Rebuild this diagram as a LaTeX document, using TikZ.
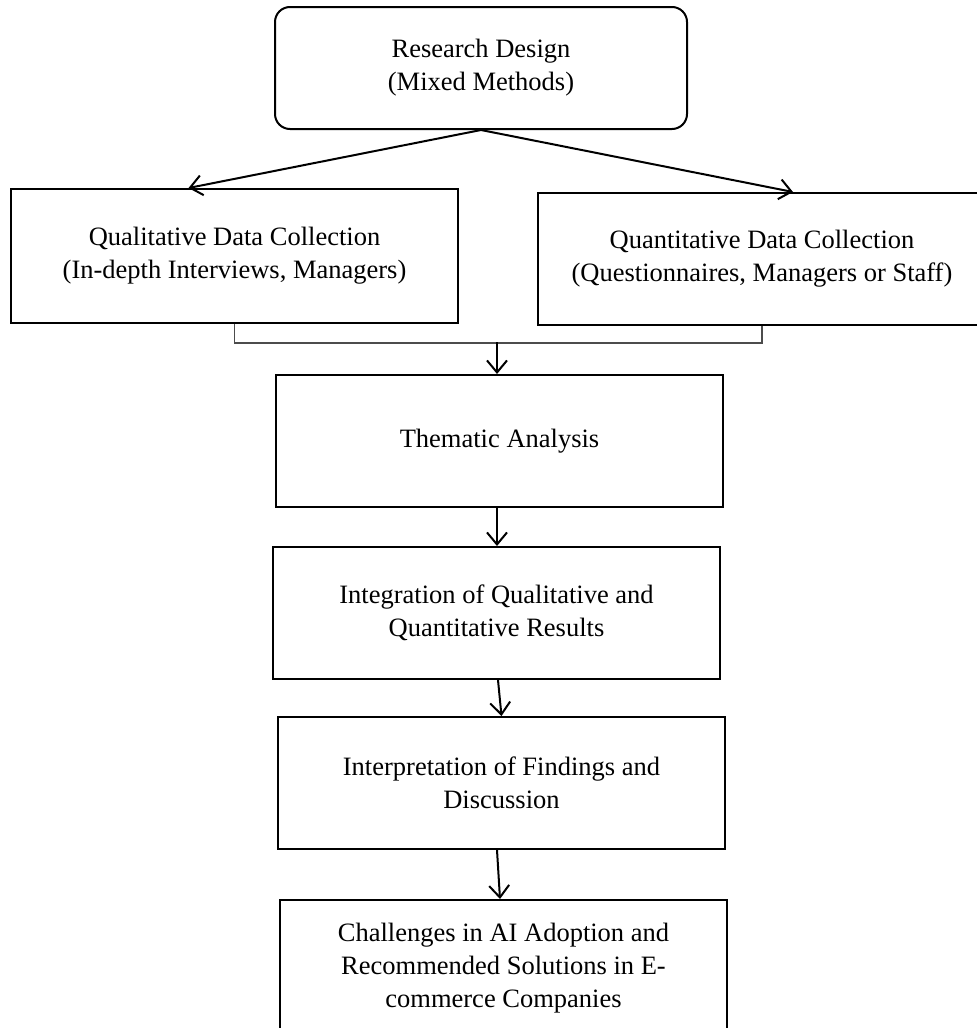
\documentclass[tikz,border=0pt]{standalone}
\usepackage{fontspec}
\setmainfont{Liberation Serif}
\usetikzlibrary{arrows.meta}

\begin{document}
\begin{tikzpicture}[x=1pt, y=-1pt,
  box/.style={draw, line width=2pt, minimum width=447pt, minimum height=132pt,
    align=center, font=\fontsize{26.5}{33}\selectfont},
  link/.style={draw, line width=2pt, -{Straight Barb[length=12pt,width=20pt]}},
  joint/.style={draw, line width=1.2pt, black!70}]

\useasboundingbox (0,0) rectangle (977,1028);

\node[box, rounded corners=15pt, minimum width=412pt, minimum height=122pt] (1) at (481,68) {Research Design\\(Mixed Methods)};
\node[box, minimum height=134pt] (2) at (234.5,256) {Qualitative Data Collection\\(In-depth Interviews, Managers)};
\node[box, minimum width=448pt] (3) at (762,259) {Quantitative Data Collection\\(Questionnaires, Managers or Staff)};
\node[box] (4) at (499.5,441) {Thematic Analysis};
\node[box] (5) at (496.5,613) {Integration of Qualitative and\\Quantitative Results};
\node[box] (6) at (501.5,783) {Interpretation of Findings and\\Discussion};
\node[box, minimum height=136pt] (7) at (503.5,968) {Challenges in AI Adoption and\\Recommended Solutions in E-\\commerce Companies};

\path[link] (1.south) -- ([xshift=-46pt]2.north);
\path[link] (1.south) -- ([xshift=31pt]3.north);
\path[joint] (2.south) -- ++(0,19) -| (3.south);
\coordinate (j) at (497,342);
\path[link] (j) -- (4.north -| j);
\path[link] (4.south -| j) -- (5.north -| j);
\path[link] ([xshift=1.5pt]5.south) -- (6.north);
\path[link] ([xshift=-4.5pt]6.south) -- ([xshift=-3.5pt]7.north);

\end{tikzpicture}
\end{document}
